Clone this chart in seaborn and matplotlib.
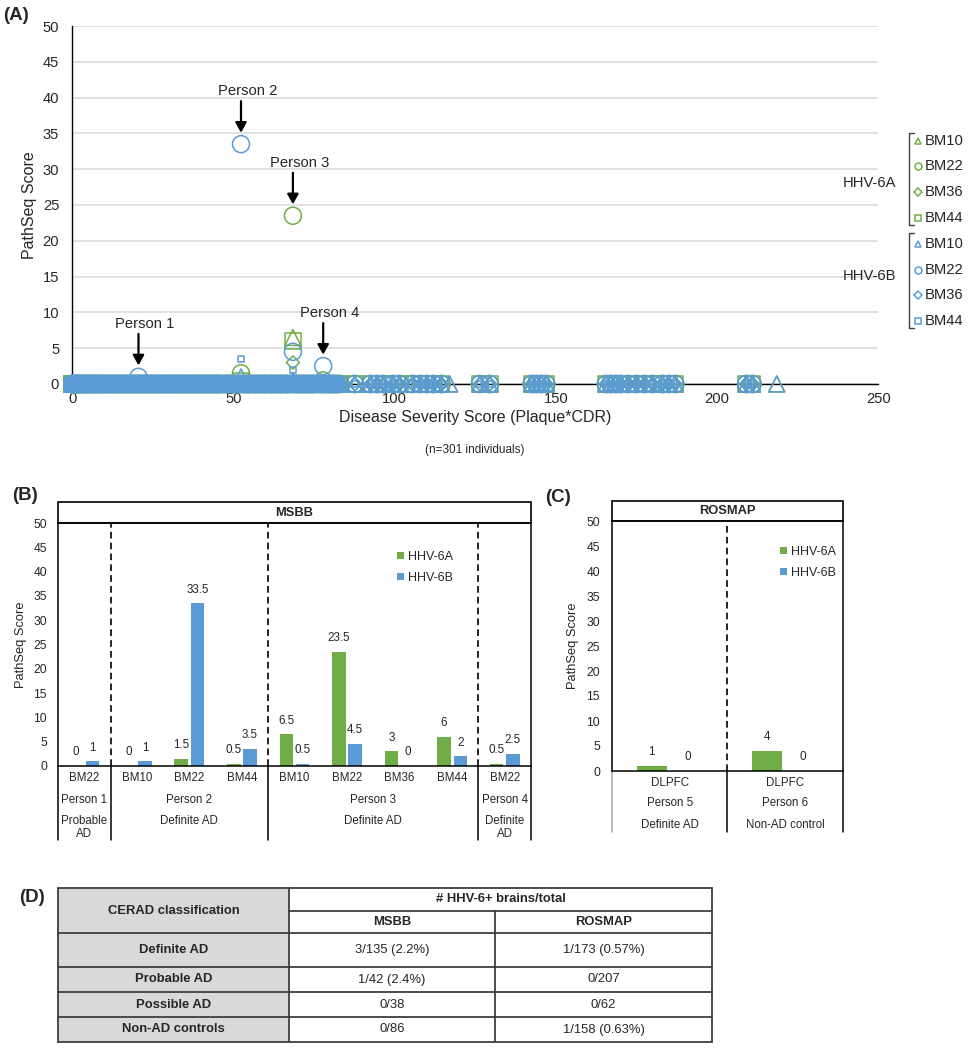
import matplotlib
matplotlib.use('Agg')
import pandas as pd
import matplotlib.pyplot as plt
import matplotlib.transforms as mtransforms
from matplotlib import font_manager
from matplotlib.lines import Line2D
from matplotlib.patches import Rectangle, Patch
import seaborn as sns

# --- Panel A: PathSeq score vs disease severity (MSBB, n=301) ---
regions = ['BM10', 'BM22', 'BM36', 'BM44']
viruses = ['HHV-6A', 'HHV-6B']
# severity scores of individuals with no HHV-6 reads in any region
zero_sev = [
    0, 0, 0, 0, 0, 0.5, 0.8, 1, 1.5, 1.8, 2, 2.5, 3, 3.2, 3.6, 4, 4.5, 5, 5.3, 5.8,
    6, 6.5, 7, 7.4, 7.9, 8, 8.6, 9, 9.5, 10, 10.4, 10.8, 11.5, 12, 12.3, 12.9, 13.5, 14,
    14.4, 15, 15.6, 16, 16.5, 17, 17.4, 18, 18.7, 19, 19.5, 20, 20.6, 21, 21.8, 22, 22.5,
    23, 23.6, 24, 24.5, 25, 25.5, 26, 26.4, 27, 27.8, 28, 28.5, 29, 29.6, 30, 30.5, 31,
    31.7, 32, 32.5, 33, 33.4, 34, 34.8, 35, 35.5, 36, 36.6, 37, 37.5, 38, 38.4, 39, 39.7,
    40, 40.5, 41, 41.8, 42, 42.6, 43, 43.5, 44, 44.7, 45, 45.5, 46, 46.8, 47.5, 48, 48.6,
    49, 49.5, 50, 50.6, 51, 52, 52.8, 53.5, 54, 54.6, 55, 55.8, 56.5, 57, 57.6, 58.2, 59,
    59.5, 60, 60.8, 61.5, 62, 62.7, 63.3, 64, 64.5, 65, 65.8, 66.5, 67, 68, 69, 69.6, 70.2,
    71, 71.5, 72, 72.8, 73.5, 74, 74.6, 75, 76, 76.8, 77.5, 78, 79, 79.6, 80, 80.7, 81.5,
    82, 83,
    87.6, 92.5, 94.5, 96.5, 99.5, 101.5, 105.5, 108, 110, 112, 114.5, 126.4, 129.5,
    142.5, 144, 145.5, 147, 165.5, 167, 168.5, 170, 172.5, 175, 177.5, 180, 183, 185,
    187, 209, 211,
]
zero_sev_bm10_only = [117.0, 218.5]
person_sev = {'Person 1': 20.5, 'Person 2': 52.3, 'Person 3': 68.4, 'Person 4': 77.8}

# --- Panel B: MSBB positives ---
b_person = ['Person 1', 'Person 2', 'Person 2', 'Person 2', 'Person 3', 'Person 3',
            'Person 3', 'Person 3', 'Person 4']
b_region = ['BM22', 'BM10', 'BM22', 'BM44', 'BM10', 'BM22', 'BM36', 'BM44', 'BM22']
b_dx = ['Probable\nAD', 'Definite AD', 'Definite AD', 'Definite AD', 'Definite AD',
        'Definite AD', 'Definite AD', 'Definite AD', 'Definite\nAD']
b_hhv6a = [0, 0, 1.5, 0.5, 6.5, 23.5, 3, 6, 0.5]
b_hhv6b = [1, 1, 33.5, 3.5, 0.5, 4.5, 0, 2, 2.5]

# --- Panel C: ROSMAP positives ---
c_person = ['Person 5', 'Person 6']
c_region = ['DLPFC', 'DLPFC']
c_dx = ['Definite AD', 'Non-AD control']
c_hhv6a = [1, 4]
c_hhv6b = [0, 0]

# --- Panel D: table ---
cerad_class = ['Definite AD', 'Probable AD', 'Possible AD', 'Non-AD controls']
msbb_pos = ['3/135 (2.2%)', '1/42 (2.4%)', '0/38', '0/86']
rosmap_pos = ['1/173 (0.57%)', '0/207', '0/62', '1/158 (0.63%)']

GREEN = '#70ad47'
BLUE = '#5b9bd5'
colors = {'HHV-6A': GREEN, 'HHV-6B': BLUE}
markers = {'BM10': '^', 'BM22': 'o', 'BM36': 'D', 'BM44': 's'}
msize = {('HHV-6A', 'BM10'): 130, ('HHV-6A', 'BM22'): 150, ('HHV-6A', 'BM36'): 45,
         ('HHV-6A', 'BM44'): 130, ('HHV-6B', 'BM10'): 130, ('HHV-6B', 'BM22'): 150,
         ('HHV-6B', 'BM36'): 45, ('HHV-6B', 'BM44'): 20}

sns.set_style('white')
plt.rcParams['font.family'] = ['Liberation Sans', 'DejaVu Sans']

try:
    font_manager.findfont(font_manager.FontProperties(family='Liberation Sans Narrow'),
                          fallback_to_default=False)
    TABLE_FONT, TABLE_SIZE = 'Liberation Sans Narrow', 11.2
except ValueError:
    TABLE_FONT, TABLE_SIZE = 'Liberation Sans', 9.4

W, H = 970, 1050


def fx(px):
    return px / W


def fy(py):
    return 1 - py / H


fig = plt.figure(figsize=(W / 100, H / 100), dpi=100)

# ---------------- (A) ----------------
rows = []
for sev in zero_sev:
    for v in viruses:
        for r in regions:
            rows.append((sev, 0.0, v, r))
for sev in zero_sev_bm10_only:
    for v in viruses:
        rows.append((sev, 0.0, v, 'BM10'))
b_scores = {(p, r): (a, b) for p, r, a, b in zip(b_person, b_region, b_hhv6a, b_hhv6b)}
for p, sev in person_sev.items():
    for r in regions:
        a, b = b_scores.get((p, r), (0, 0))
        rows.append((sev, a, 'HHV-6A', r))
        rows.append((sev, b, 'HHV-6B', r))
scatter_df = pd.DataFrame(rows, columns=['severity', 'score', 'virus', 'region'])

ax = fig.add_axes([fx(72.4), fy(384), (878.3 - 72.4) / W, (384 - 26) / H])
for v in viruses:
    for r in regions:
        sub = scatter_df[(scatter_df['virus'] == v) & (scatter_df['region'] == r)]
        sns.scatterplot(data=sub, x='severity', y='score', ax=ax, marker=markers[r],
                        s=msize[(v, r)], color=colors[v], facecolor='none',
                        edgecolor=colors[v], linewidth=1.1, clip_on=False, zorder=3,
                        legend=False)
ax.set_xlim(0, 250)
ax.set_ylim(0, 50)
ax.set_xticks(range(0, 251, 50))
ax.set_yticks(range(0, 51, 5))
ax.yaxis.grid(True, color='#d9d9d9', linewidth=1.1)
ax.xaxis.grid(False)
ax.set_axisbelow(True)
for side in ['top', 'right']:
    ax.spines[side].set_visible(False)
for side in ['left', 'bottom']:
    ax.spines[side].set_color('black')
    ax.spines[side].set_linewidth(1.0)
ax.tick_params(axis='x', length=0, labelsize=10.6, pad=5.5)
ax.tick_params(axis='y', length=0, labelsize=10.6, pad=9.5)
ax.set_xlabel('Disease Severity Score (Plaque*CDR)', fontsize=11.5)
ax.xaxis.set_label_coords(0.5, -0.072)
ax.xaxis.label.set_va('top')
ax.set_ylabel('PathSeq Score', fontsize=11.5)
ax.yaxis.set_label_coords(-0.044, 0.5)
fig.text(fx(475), fy(450), '(n=301 individuals)', ha='center', va='center', fontsize=8.5)

for p, sev in person_sev.items():
    top = scatter_df.loc[scatter_df['severity'] == sev, 'score'].max()
    tip = top + 1.6
    start = tip + 4.4
    ax.annotate('', xy=(sev, tip), xytext=(sev, start),
                arrowprops=dict(arrowstyle='-|>,head_length=0.5,head_width=0.28',
                                color='black', lw=1.6, shrinkA=0, shrinkB=0,
                                mutation_scale=12))
    ax.text(sev + 2, start + 0.4, p, ha='center', va='bottom', fontsize=10.6)

# custom bracketed legend
legend_y = {'HHV-6A': [140.7, 166, 192, 217.7], 'HHV-6B': [244, 270, 295, 321]}
bracket = {'HHV-6A': (133, 225), 'HHV-6B': (233, 328)}
group_y = {'HHV-6A': 182.7, 'HHV-6B': 275.7}
legend_ms = {'BM10': 5, 'BM22': 5, 'BM36': 3.8, 'BM44': 5}
for v in viruses:
    y0, y1 = bracket[v]
    fig.add_artist(Line2D([fx(914), fx(909.3), fx(909.3), fx(914)],
                          [fy(y0), fy(y0), fy(y1), fy(y1)], color='#404040', lw=1))
    fig.text(fx(843), fy(group_y[v]), v, ha='left', va='center', fontsize=10.6)
    for r, yy in zip(regions, legend_y[v]):
        fig.add_artist(Line2D([fx(918.3)], [fy(yy)], marker=markers[r], ms=legend_ms[r],
                              mfc='none', mec=colors[v], mew=1.1, ls='none'))
        fig.text(fx(925), fy(yy), r, ha='left', va='center', fontsize=10.6)


# ---------------- (B) and (C) ----------------
def bar_panel(ax, person, region, dx, hhv6a, hhv6b, title, header_h, person_y, dx_y,
              sep_y, tick_pad, ytick_pad, ylabel_x, left_sep_color, leg_xy):
    samples = [f'{p} {r}' for p, r in zip(person, region)]
    df = pd.DataFrame({'sample': samples, 'HHV-6A': hhv6a, 'HHV-6B': hhv6b})
    df = df.melt(id_vars='sample', var_name='virus', value_name='score')
    sns.barplot(data=df, x='sample', y='score', hue='virus', order=samples,
                hue_order=viruses, palette=colors, width=0.62, gap=0.17,
                saturation=1, errorbar=None, linewidth=0, legend=False, ax=ax)
    for cont in ax.containers:
        ax.bar_label(cont, fmt='%g', padding=5.5, fontsize=8.4)
    n = len(samples)
    ax.set_xlim(-0.5, n - 0.5)
    ax.set_ylim(0, 50)
    ax.set_yticks(range(0, 51, 5))
    ax.set_xticks(range(n), labels=region)
    ax.tick_params(axis='x', length=0, labelsize=8.3, pad=tick_pad)
    ax.tick_params(axis='y', length=0, labelsize=8.7, pad=ytick_pad)
    ax.set_xlabel('')
    ax.set_ylabel('PathSeq Score', fontsize=9.3)
    ax.yaxis.set_label_coords(ylabel_x, 0.5)
    for s in ax.spines.values():
        s.set_visible(True)
        s.set_color('black')
        s.set_linewidth(1.1)

    # header strip
    ax.add_patch(Rectangle((0, 1), 1, header_h, transform=ax.transAxes, fill=False,
                           ec='black', lw=1.2, clip_on=False))
    ax.text(0.5, 1 + header_h / 2, title, transform=ax.transAxes, ha='center',
            va='center', fontsize=9.3, fontweight='bold')

    # person / diagnosis rows under the axis
    trans = mtransforms.blended_transform_factory(ax.transData, ax.transAxes)
    groups = []
    for i, (p, d) in enumerate(zip(person, dx)):
        if groups and groups[-1][0] == p:
            groups[-1][3] = i
        else:
            groups.append([p, d, i, i])
    for p, d, i0, i1 in groups:
        xc = (i0 + i1) / 2
        ax.text(xc, person_y, p, transform=trans, ha='center', va='center', fontsize=8.3)
        ax.text(xc, dx_y, d, transform=trans, ha='center', va='top', fontsize=8.3,
                linespacing=1.15)
    bounds = [g[2] - 0.5 for g in groups[1:]]
    for xb in bounds:
        ax.plot([xb, xb], [0, 1], transform=trans, color='black', lw=1.2,
                ls=(0, (4, 2.5)), zorder=1)
    for xb in [-0.5] + bounds + [n - 0.5]:
        col = left_sep_color if xb == -0.5 else 'black'
        ax.plot([xb, xb], [0, sep_y], transform=trans, color=col, lw=1.1, clip_on=False)

    handles = [Patch(facecolor=colors[v], edgecolor='none', label=v) for v in viruses]
    ax.legend(handles=handles, loc='upper left', bbox_to_anchor=leg_xy, frameon=False,
              fontsize=9, handlelength=0.55, handleheight=0.55, handletextpad=0.3,
              labelspacing=0.7, borderaxespad=0, borderpad=0)


axb = fig.add_axes([fx(58), fy(766), 473 / W, 243 / H])
bar_panel(axb, b_person, b_region, b_dx, b_hhv6a, b_hhv6b, 'MSBB', 21 / 243,
          -0.14, -0.2, -0.3045, 4.3, 8.0, -0.0645, 'black', (0.717, 0.885))

axc = fig.add_axes([fx(612), fy(771), 231 / W, 250 / H])
bar_panel(axc, c_person, c_region, c_dx, c_hhv6a, c_hhv6b, 'ROSMAP', 20 / 250,
          -0.128, -0.192, -0.244, 4.3, 8.6, -0.141, '#a6a6a6', (0.727, 0.90))

# ---------------- (D) ----------------
axd = fig.add_axes([fx(40), fy(1048), (720 - 40) / W, (1048 - 880) / H])
axd.set_xlim(40, 720)
axd.set_ylim(1048, 880)
axd.axis('off')
col_x = [58, 289, 495, 712]
row_y = [888, 911, 933, 967, 992, 1017, 1042]
GREY = '#d9d9d9'
LINE = '#3f3f3f'
axd.add_patch(Rectangle((col_x[0], row_y[0]), col_x[1] - col_x[0], row_y[-1] - row_y[0],
                        facecolor=GREY, edgecolor='none'))
for yy in [row_y[0], row_y[2], row_y[3], row_y[4], row_y[5], row_y[6]]:
    axd.plot([col_x[0], col_x[3]], [yy, yy], color=LINE, lw=1.3)
axd.plot([col_x[1], col_x[3]], [row_y[1], row_y[1]], color=LINE, lw=1.3)
for xx in [col_x[0], col_x[1], col_x[3]]:
    axd.plot([xx, xx], [row_y[0], row_y[-1]], color=LINE, lw=1.3)
axd.plot([col_x[2], col_x[2]], [row_y[1], row_y[-1]], color=LINE, lw=1.3)

tkw = dict(ha='center', va='center', family=TABLE_FONT, fontsize=TABLE_SIZE)
axd.text((col_x[0] + col_x[1]) / 2, (row_y[0] + row_y[2]) / 2, 'CERAD classification',
         fontweight='bold', **tkw)
axd.text((col_x[1] + col_x[3]) / 2, (row_y[0] + row_y[1]) / 2, '# HHV-6+ brains/total',
         fontweight='bold', **tkw)
axd.text((col_x[1] + col_x[2]) / 2, (row_y[1] + row_y[2]) / 2, 'MSBB', fontweight='bold', **tkw)
axd.text((col_x[2] + col_x[3]) / 2, (row_y[1] + row_y[2]) / 2, 'ROSMAP', fontweight='bold', **tkw)
for i, (cls, m, r) in enumerate(zip(cerad_class, msbb_pos, rosmap_pos)):
    yc = (row_y[i + 2] + row_y[i + 3]) / 2
    axd.text((col_x[0] + col_x[1]) / 2, yc, cls, fontweight='bold', **tkw)
    axd.text((col_x[1] + col_x[2]) / 2, yc, m, **tkw)
    axd.text((col_x[2] + col_x[3]) / 2, yc, r, **tkw)

# panel letters
for lab, (px, py) in {'(A)': (16.5, 15), '(B)': (25.5, 496), '(C)': (558, 497),
                      '(D)': (31.5, 898)}.items():
    fig.text(fx(px), fy(py), lab, ha='center', va='center', fontsize=13.5,
             fontweight='bold')

fig.savefig('out.png', dpi=100)
